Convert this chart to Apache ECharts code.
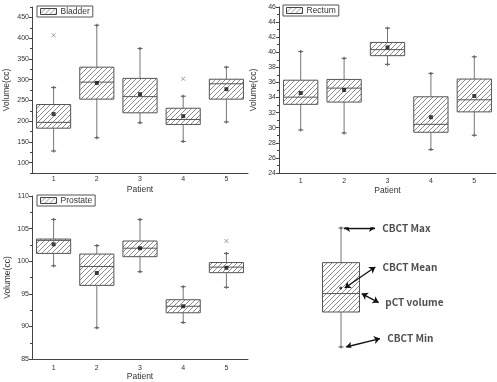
<!DOCTYPE html>
<html>
<head>
<meta charset="utf-8">
<script src="https://cdn.jsdelivr.net/npm/echarts@6/dist/echarts.min.js"></script>
<style>
  html, body { margin: 0; padding: 0; background: #fff; }
  #chart { width: 497px; height: 382px; }
</style>
</head>
<body>
<div id="chart"></div>
<script>
// ---------- data ----------
const categories = ['1', '2', '3', '4', '5'];

const bladderMin    = [128, 160, 196, 151, 198];
const bladderQ1     = [183, 253, 220, 192, 253];
const bladderMedian = [197, 294, 259, 204, 290];
const bladderQ3     = [240, 330, 303, 231, 301];
const bladderMax    = [281, 431, 375, 260, 330];
const bladderMean   = [217, 292, 265, 212, 277];
const bladderOutliers = [[0, 407], [3, 302]];
const bladderTicks  = [100, 150, 200, 250, 300, 350, 400, 450];

const rectumMin    = [29.7, 29.3, 38.4, 27.1, 29.0];
const rectumQ1     = [33.1, 33.4, 39.55, 29.4, 32.1];
const rectumMedian = [34.05, 35.25, 40.35, 30.45, 33.7];
const rectumQ3     = [36.3, 36.4, 41.3, 34.1, 36.45];
const rectumMax    = [40.1, 39.2, 43.2, 37.2, 39.4];
const rectumMean   = [34.6, 35.0, 40.65, 31.4, 34.2];
const rectumOutliers = [];

const prostateMin    = [99.3, 89.8, 98.4, 90.6, 96.0];
const prostateQ1     = [101.2, 96.3, 100.7, 92.1, 98.25];
const prostateMedian = [103.2, 99.2, 102.0, 93.1, 99.1];
const prostateQ3     = [103.4, 101.1, 103.1, 94.1, 99.8];
const prostateMax    = [106.4, 102.4, 106.4, 96.1, 101.2];
const prostateMean   = [102.6, 98.2, 102.0, 93.1, 99.0];
const prostateOutliers = [[4, 103.1]];

// schematic (legend diagram): [x, min, q1, pCT, q3, max]
const diagramBox = [1.9, 0, 2.94, 4.49, 7.09, 10];
const diagramBoxWidth = 3.7;
const diagramMean = [1.87, 4.96];
const diagramArrows = [
  [[2.2, 10], [5.3, 10]],
  [[2.27, 4.96], [5.33, 6.72]],
  [[3.97, 4.49], [5.67, 3.73]],
  [[2.4, 0], [5.8, 0.71]]
];
const diagramLabels = ['CBCT Max', 'CBCT Mean', 'pCT volume', 'CBCT Min'];
const diagramLabelAnchors = [[5.97, 10], [6.0, 6.72], [6.27, 3.76], [6.47, 0.71]];

// ---------- styling helpers ----------
const hatchCanvas = (function () {
  const s = 5;
  const c = document.createElement('canvas');
  c.width = s; c.height = s;
  const g = c.getContext('2d');
  g.fillStyle = '#fff';
  g.fillRect(0, 0, s, s);
  g.strokeStyle = '#6e6e6e';
  g.lineWidth = 0.8;
  g.beginPath();
  g.moveTo(0, s); g.lineTo(s, 0);
  g.moveTo(-1, 1); g.lineTo(1, -1);
  g.moveTo(s - 1, s + 1); g.lineTo(s + 1, s - 1);
  g.stroke();
  return c;
})();
const hatchFill = { image: hatchCanvas, repeat: 'repeat' };

const AX = '#444';
const TXT = '#333';
const FONT = 'Liberation Sans, Arial, sans-serif';

function boxData(mins, q1s, meds, q3s, maxs) {
  return categories.map((c, i) => [i, mins[i], q1s[i], meds[i], q3s[i], maxs[i]]);
}

function makeRenderer(widthOf) {
  return function (params, api) {
    const x = api.value(0);
    const p = [1, 2, 3, 4, 5].map(k => api.coord([x, api.value(k)]));
    const cx = p[0][0];
    const w = widthOf(api);
    const cap = (pt) => [
      { type: 'line', shape: { x1: cx - 2.5, y1: pt[1], x2: cx + 2.5, y2: pt[1] }, style: { stroke: '#666', lineWidth: 1.2 } },
      { type: 'line', shape: { x1: cx, y1: pt[1] - 1.5, x2: cx, y2: pt[1] + 1.5 }, style: { stroke: '#666', lineWidth: 1.2 } }
    ];
    return {
      type: 'group',
      children: [
        { type: 'line', shape: { x1: cx, y1: p[4][1], x2: cx, y2: p[3][1] }, style: { stroke: '#777', lineWidth: 1 } },
        { type: 'line', shape: { x1: cx, y1: p[1][1], x2: cx, y2: p[0][1] }, style: { stroke: '#777', lineWidth: 1 } },
        { type: 'rect', shape: { x: cx - w / 2, y: p[3][1], width: w, height: p[1][1] - p[3][1] },
          style: { fill: hatchFill, stroke: '#555', lineWidth: 1 } },
        { type: 'line', shape: { x1: cx - w / 2, y1: p[2][1], x2: cx + w / 2, y2: p[2][1] }, style: { stroke: '#555', lineWidth: 1 } }
      ].concat(cap(p[0]), cap(p[4]))
    };
  };
}
const categoryRenderer = makeRenderer(api => api.size([1, 0])[0] * 0.79);
const diagramRenderer = makeRenderer(api => api.size([diagramBoxWidth, 0])[0]);

function xCat(gridIndex, labelMargin, nameGap) {
  return {
    gridIndex, type: 'category', data: categories, boundaryGap: true,
    name: 'Patient', nameLocation: 'middle', nameGap,
    nameTextStyle: { fontSize: 8.5, color: TXT, fontFamily: FONT },
    axisLine: { lineStyle: { color: AX, width: 1 } },
    axisTick: { alignWithLabel: true, length: 3, lineStyle: { color: AX } },
    axisLabel: { fontSize: 7, color: TXT, margin: labelMargin, fontFamily: FONT },
    splitLine: { show: false }
  };
}
function yVal(gridIndex, min, max, interval, nameGap, extra) {
  return Object.assign({
    gridIndex, type: 'value', min, max, interval, position: 'left',
    name: 'Volume(cc)', nameLocation: 'middle', nameGap,
    nameTextStyle: { fontSize: 8.5, color: TXT, fontFamily: FONT },
    axisLine: { show: true, lineStyle: { color: AX, width: 1 } },
    axisTick: { show: true, length: 3, lineStyle: { color: AX } },
    minorTick: { show: true, splitNumber: 2, length: 2, lineStyle: { color: AX } },
    axisLabel: { fontSize: 7, color: TXT, margin: 3, fontFamily: FONT },
    splitLine: { show: false },
    minorSplitLine: { show: false }
  }, extra || {});
}
function legendFor(name, left, top) {
  return {
    data: [{ name, icon: 'rect', itemStyle: { color: hatchFill, borderColor: '#444', borderWidth: 1 } }],
    left, top, orient: 'horizontal',
    selectedMode: false,
    borderColor: '#555', borderWidth: 1, padding: [1, 3, 1, 3],
    itemWidth: 16, itemHeight: 6, itemGap: 0,
    textStyle: { fontSize: 8.5, color: TXT, fontFamily: FONT, padding: [0, 0, 0, -1] }
  };
}
function panelSeries(name, xi, yi, mins, q1s, meds, q3s, maxs, means, outliers) {
  return [
    { name, type: 'custom', xAxisIndex: xi, yAxisIndex: yi,
      renderItem: categoryRenderer, encode: { x: 0, y: [1, 2, 3, 4, 5] },
      itemStyle: { color: hatchFill },
      data: boxData(mins, q1s, meds, q3s, maxs), z: 2 },
    { type: 'scatter', xAxisIndex: xi, yAxisIndex: yi, symbol: 'rect', symbolSize: 4,
      itemStyle: { color: '#111' }, data: means.map((m, i) => [i, m]), z: 3, silent: true },
    { type: 'scatter', xAxisIndex: xi, yAxisIndex: yi, symbol: 'path://M0,0L10,10M10,0L0,10',
      symbolSize: 4, itemStyle: { color: 'none', borderColor: '#888', borderWidth: 1 },
      data: outliers, z: 3, silent: true }
  ];
}

const option = {
  backgroundColor: '#fff',
  animation: false,
  grid: [
    { left: 32, top: 7, width: 216, height: 166 },
    { left: 279, top: 7, width: 217, height: 166 },
    { left: 32, top: 196, width: 216, height: 166 },
    { left: 322, top: 228, width: 120, height: 119 }
  ],
  legend: [
    legendFor('Bladder', 37, 6),
    legendFor('Rectum', 283, 5),
    legendFor('Prostate', 37, 195)
  ],
  xAxis: [
    xCat(0, 3, 12),
    xCat(1, 5, 13),
    xCat(2, 5, 10),
    { gridIndex: 3, type: 'value', min: 0, max: 12, show: false }
  ],
  yAxis: [
    yVal(0, 75, 475, 25, 21, {
      axisTick: { show: true, length: 3, lineStyle: { color: AX }, customValues: bladderTicks },
      axisLabel: { fontSize: 7, color: TXT, margin: 3, fontFamily: FONT, customValues: bladderTicks },
      minorTick: { show: false }
    }),
    { gridIndex: 0, type: 'value', min: 75, max: 475, interval: 50, position: 'left',
      axisLine: { show: false }, axisLabel: { show: false }, splitLine: { show: false },
      axisTick: { show: true, length: 2, lineStyle: { color: AX } } },
    yVal(1, 24, 46, 2, 21),
    yVal(2, 85, 110, 5, 20),
    { gridIndex: 3, type: 'value', min: 0, max: 10, show: false }
  ],
  series: [].concat(
    panelSeries('Bladder', 0, 0, bladderMin, bladderQ1, bladderMedian, bladderQ3, bladderMax, bladderMean, bladderOutliers),
    panelSeries('Rectum', 1, 2, rectumMin, rectumQ1, rectumMedian, rectumQ3, rectumMax, rectumMean, rectumOutliers),
    panelSeries('Prostate', 2, 3, prostateMin, prostateQ1, prostateMedian, prostateQ3, prostateMax, prostateMean, prostateOutliers),
    [
      { type: 'custom', xAxisIndex: 3, yAxisIndex: 4, renderItem: diagramRenderer,
        encode: { x: 0, y: [1, 2, 3, 4, 5] }, data: [diagramBox], clip: false, silent: true },
      { type: 'scatter', xAxisIndex: 3, yAxisIndex: 4, symbol: 'circle', symbolSize: 3,
        itemStyle: { color: '#111' }, data: [diagramMean], z: 3, clip: false, silent: true },
      { type: 'lines', coordinateSystem: 'cartesian2d', xAxisIndex: 3, yAxisIndex: 4,
        symbol: ['arrow', 'arrow'], symbolSize: 6, silent: true, z: 4,
        lineStyle: { color: '#111', width: 1.3, opacity: 1, curveness: 0 },
        data: diagramArrows.map(c => ({ coords: c })) },
      { type: 'scatter', xAxisIndex: 3, yAxisIndex: 4, symbolSize: 1, clip: false, silent: true,
        itemStyle: { color: 'rgba(0,0,0,0)' },
        label: { show: true, position: 'right', distance: 0, formatter: '{b}',
          fontSize: 10, fontWeight: 'bold', color: '#222', fontFamily: 'Noto Sans CJK KR, sans-serif' },
        data: diagramLabels.map((n, i) => ({ name: n, value: diagramLabelAnchors[i] })) }
    ]
  )
};

const chart = echarts.init(document.getElementById('chart'), null, { renderer: 'canvas' });
chart.setOption(option);
</script>
</body>
</html>
